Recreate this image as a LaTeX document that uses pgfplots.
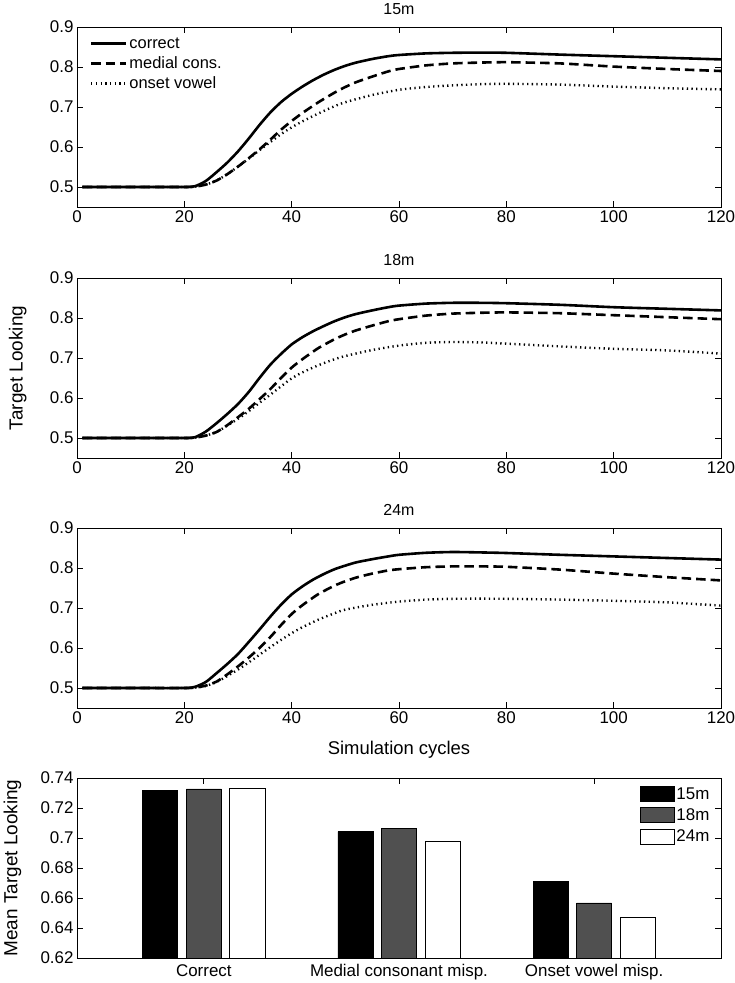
\documentclass[border=0pt]{standalone}
\usepackage{fontspec}
\setmainfont{Liberation Sans}
\usepackage{pgfplots}
\pgfplotsset{compat=1.18}
\newcommand{\ttl}[1]{{\fontsize{16}{18}\selectfont #1}}
\begin{document}
\begin{tikzpicture}
\pgfplotsset{
  lineax/.style={
    width=644bp, height=180bp, scale only axis,
    xmin=0, xmax=120, ymin=0.45, ymax=0.9,
    xtick={0,20,40,60,80,100,120},
    ytick={0.5,0.6,0.7,0.8,0.9},
    yticklabels={0.5,0.6,0.7,0.8,0.9},
    tick align=inside, tick pos=both, major tick length=6bp,
    tick label style={font=\fontsize{17}{19}\selectfont},
    /pgf/number format/assume math mode=true,
    every axis title shift=0pt,
    title style={at={(axis description cs:0.5,1.1)}, anchor=center},
    axis line style={line width=0.8bp},
    every tick/.style={black, line width=0.8bp},
    anchor=north west,
  },
  cc/.style={black, line width=2.6bp, smooth, tension=0.4},
  mm/.style={black, line width=2.6bp, dash pattern=on 9.5bp off 5bp, smooth, tension=0.4},
  oo/.style={black, line width=2.4bp, dash pattern=on 1.3bp off 3.4bp, smooth, tension=0.4},
}
\path[use as bounding box] (-77bp,0bp) rectangle (658bp,-983bp);

% ---------- 15m ----------
\begin{axis}[lineax, at={(0bp,-27bp)}, title={\ttl{15m}},
  legend style={draw=none, fill=none, at={(axis description cs:0.015,0.965)}, anchor=north west,
    font=\fontsize{16.5}{18}\selectfont, row sep=3bp},
  legend cell align=left,
  legend image code/.code={\draw[#1] (0bp,0bp) -- (35bp,0bp);}]
\addplot[cc] coordinates {(1,0.5)(10,0.5)(20,0.5)(22,0.502)(24,0.515)(26,0.537)(28,0.561)(30,0.589)(32,0.621)(34,0.655)(36,0.686)(38,0.712)(40,0.733)(42,0.751)(44,0.767)(46,0.781)(48,0.793)(50,0.803)(52,0.811)(55,0.820)(58,0.827)(60,0.830)(65,0.834)(70,0.8355)(75,0.836)(80,0.8355)(90,0.831)(100,0.827)(110,0.823)(120,0.819)};
\addlegendentry{correct}
\addplot[mm] coordinates {(1,0.5)(10,0.5)(20,0.5)(22,0.501)(24,0.506)(26,0.516)(28,0.532)(30,0.551)(32,0.572)(34,0.594)(36,0.618)(38,0.643)(40,0.665)(42,0.685)(45,0.712)(48,0.736)(50,0.75)(52,0.762)(55,0.776)(58,0.789)(60,0.795)(65,0.804)(70,0.809)(75,0.811)(80,0.812)(90,0.809)(100,0.801)(110,0.795)(120,0.79)};
\addlegendentry{medial cons.}
\addplot[oo] coordinates {(1,0.5)(10,0.5)(20,0.5)(22,0.501)(24,0.506)(26,0.516)(28,0.532)(30,0.551)(32,0.571)(34,0.592)(36,0.612)(38,0.632)(40,0.649)(42,0.664)(45,0.684)(48,0.702)(50,0.712)(55,0.73)(60,0.743)(65,0.75)(70,0.754)(75,0.757)(80,0.758)(90,0.756)(100,0.751)(110,0.747)(120,0.744)};
\addlegendentry{onset vowel}
\end{axis}

% ---------- 18m ----------
\begin{axis}[lineax, at={(0bp,-278bp)}, title={\ttl{18m}},
  ylabel={Target Looking},
  ylabel style={font=\fontsize{19}{21}\selectfont, at={(axis description cs:-0.092,0.5)}, anchor=center}]
\addplot[cc] coordinates {(1,0.5)(10,0.5)(20,0.5)(22,0.502)(24,0.516)(26,0.537)(28,0.56)(30,0.585)(32,0.615)(34,0.65)(36,0.683)(38,0.71)(40,0.734)(42,0.752)(44,0.767)(46,0.780)(48,0.792)(50,0.802)(52,0.810)(55,0.819)(58,0.827)(60,0.831)(65,0.836)(70,0.838)(75,0.838)(80,0.837)(90,0.833)(100,0.827)(110,0.823)(120,0.819)};
\addplot[mm] coordinates {(1,0.5)(10,0.5)(20,0.5)(22,0.501)(24,0.506)(26,0.515)(28,0.532)(30,0.552)(32,0.573)(34,0.597)(36,0.622)(38,0.65)(40,0.676)(42,0.697)(45,0.725)(48,0.747)(50,0.759)(52,0.769)(55,0.781)(58,0.792)(60,0.797)(65,0.806)(70,0.811)(75,0.813)(80,0.814)(90,0.812)(100,0.807)(110,0.802)(120,0.797)};
\addplot[oo] coordinates {(1,0.5)(10,0.5)(20,0.5)(22,0.501)(24,0.506)(26,0.515)(28,0.531)(30,0.548)(32,0.567)(34,0.588)(36,0.608)(38,0.629)(40,0.649)(42,0.664)(45,0.682)(48,0.697)(50,0.705)(55,0.72)(60,0.731)(65,0.738)(70,0.74)(75,0.739)(80,0.736)(90,0.729)(100,0.723)(110,0.719)(120,0.711)};
\end{axis}

% ---------- 24m ----------
\begin{axis}[lineax, at={(0bp,-528bp)}, title={\ttl{24m}},
  xlabel={Simulation cycles},
  xlabel style={font=\fontsize{18.5}{20}\selectfont, at={(axis description cs:0.5,-0.233)}, anchor=center}]
\addplot[cc] coordinates {(1,0.5)(10,0.5)(20,0.5)(22,0.503)(24,0.515)(26,0.537)(28,0.56)(30,0.585)(32,0.615)(34,0.646)(36,0.678)(38,0.708)(40,0.734)(42,0.754)(44,0.771)(46,0.785)(48,0.797)(50,0.806)(52,0.814)(55,0.822)(58,0.829)(60,0.833)(65,0.838)(70,0.84)(75,0.839)(80,0.8375)(90,0.833)(100,0.829)(110,0.825)(120,0.821)};
\addplot[mm] coordinates {(1,0.5)(10,0.5)(20,0.5)(22,0.501)(24,0.506)(26,0.516)(28,0.534)(30,0.554)(32,0.576)(34,0.6)(36,0.627)(38,0.657)(40,0.685)(42,0.707)(45,0.735)(48,0.756)(50,0.767)(52,0.776)(55,0.786)(58,0.794)(60,0.797)(65,0.802)(70,0.804)(75,0.804)(80,0.803)(90,0.796)(100,0.786)(110,0.777)(120,0.769)};
\addplot[oo] coordinates {(1,0.5)(10,0.5)(20,0.5)(22,0.501)(24,0.505)(26,0.515)(28,0.53)(30,0.546)(32,0.564)(34,0.583)(36,0.602)(38,0.62)(40,0.637)(42,0.652)(45,0.671)(48,0.687)(50,0.696)(55,0.708)(60,0.716)(65,0.721)(70,0.723)(75,0.7233)(80,0.723)(90,0.721)(100,0.718)(110,0.714)(120,0.706)};
\end{axis}

% ---------- bars ----------
\begin{axis}[at={(0bp,-778bp)}, anchor=north west,
  width=644bp, height=180bp, scale only axis,
  xmin=0.35, xmax=3.65, ymin=0.62, ymax=0.74,
  xtick={1,2,3},
  xticklabels={Correct, Medial consonant misp., Onset vowel misp.},
  ytick={0.62,0.64,0.66,0.68,0.7,0.72,0.74},
  yticklabels={0.62,0.64,0.66,0.68,0.7,0.72,0.74},
  tick align=inside, tick pos=both, major tick length=6bp,
  tick label style={font=\fontsize{17}{19}\selectfont},
  xticklabel style={yshift=-3bp},
  axis line style={line width=0.8bp},
  every tick/.style={black, line width=0.8bp},
  ylabel={Mean Target Looking},
  ylabel style={font=\fontsize{19}{21}\selectfont, at={(axis description cs:-0.1,0.5)}, anchor=center},
  legend style={draw=none, fill=none, at={(axis description cs:0.99,0.97)}, anchor=north east,
    font=\fontsize{17}{19}\selectfont, row sep=4bp},
  legend cell align=left,
  legend image code/.code={\draw[#1, draw=black, line width=0.8bp] (0bp,-7.5bp) rectangle (34bp,7.5bp);}]
\addplot[ybar, bar width=0.18, bar shift=0pt, fill=black, draw=black, line width=0.8bp] coordinates {(0.777,0.7318)(1.777,0.7042)(2.777,0.6711)};
\addlegendentry{15m}
\addplot[ybar, bar width=0.18, bar shift=0pt, fill={rgb,255:red,80;green,80;blue,80}, draw=black, line width=0.8bp] coordinates {(1,0.7327)(2,0.7064)(3,0.6567)};
\addlegendentry{18m}
\addplot[ybar, bar width=0.18, bar shift=0pt, fill=white, draw=black, line width=0.8bp] coordinates {(1.223,0.7331)(2.223,0.698)(3.223,0.6473)};
\addlegendentry{24m}
\end{axis}
\end{tikzpicture}
\end{document}
